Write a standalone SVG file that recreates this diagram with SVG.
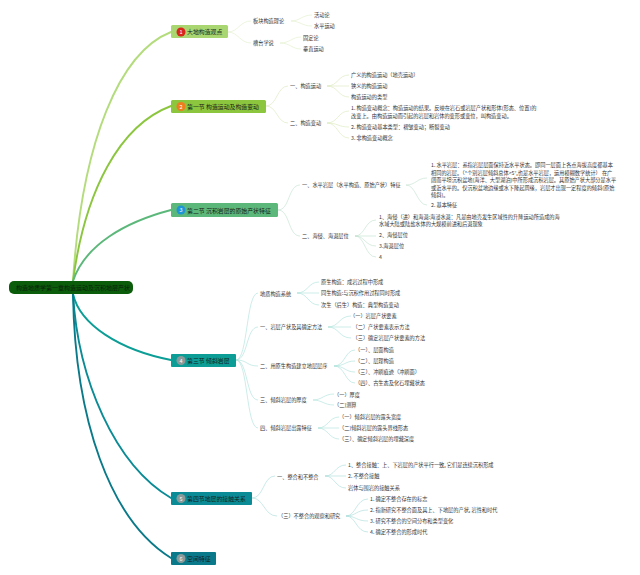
<svg xmlns="http://www.w3.org/2000/svg" width="640" height="575" viewBox="0 0 640 575">
<style>
text{font-family:"Noto Sans CJK SC","Liberation Sans",sans-serif;fill:#333;font-size:5.2px}
.n{font-size:5.9px;fill:#14221a}
.d{font-size:5.5px;fill:#fff;text-anchor:middle}
.root{font-size:6px;fill:#0a1f0a}
.m{fill:none;stroke-linecap:round;stroke-width:1.9}
.s{fill:none;stroke-width:.6}
.a{stroke:#dfeec8}.b{stroke:#d9e8b8}.c{stroke:#bfe0cc}.e{stroke:#a9e0d8}.f{stroke:#a6dcd8}
</style>
<rect width="640" height="575" fill="#fff"/>
<g id="connectors">
<path class="m" stroke="#b4dc7c" d="M73,281C82,140 120,52 171,32"/>
<path class="m" stroke="#8cc63f" d="M73,281C85,190 120,125 171,106"/>
<path class="m" stroke="#5cb87a" d="M73,281C85,245 125,222 171,210"/>
<path class="m" stroke="#0b9d96" d="M73,294C80,325 120,350 171,360"/>
<path class="m" stroke="#0a8b96" d="M73,294C78,380 115,465 171,498"/>
<path class="m" stroke="#0a7a8a" d="M73,294C75,420 110,520 171,558"/>
<path class="s a" d="M228,32C238,32 240,21 251,21M228,32C238,32 240,43 251,43M291,21C300,21 302,15 312,15M291,21C300,21 302,26 312,26M280,43C290,43 292,37 301,37M280,43C290,43 292,49 301,49"/>
<path class="s b" d="M266,106C277,106 277,86 288,86M266,106C277,106 277,123 288,123M327,86C338,86 338,75 349,75M327,86H349M327,86C338,86 338,97 349,97M327,123C338,123 338,111 349,111M327,123C338,123 338,127 349,127M327,123C338,123 338,138 349,138"/>
<path class="s c" d="M278,210C290,210 288,185 300,185M278,210C290,210 288,236 300,236M406,185C416,185 417,178 427,178M406,185C416,185 417,205 427,205M355,236C365,236 365,220 376,220M355,236H376M355,236C365,236 365,246 376,246M355,236C365,236 365,257 376,257"/>
<path class="s e" d="M236,360C248,360 246,293 258,293M236,360C248,360 246,327 258,327M236,360C248,360 246,366 258,366M236,360C248,360 246,400 258,400M236,360C248,360 246,428 258,428M297,293C308,293 308,282 319,282M297,293H319M297,293C308,293 308,305 319,305M328,327C339,327 339,316 351,316M328,327H351M328,327C339,327 339,338 351,338M334,366C345,366 345,350 355,350M334,366C345,366 345,361 355,361M334,366C345,366 345,372 355,372M334,366C345,366 345,383 355,383M313,400C322,400 324,394 334,394M313,400C322,400 324,405 334,405M318,428C328,428 329,417 339,417M318,428H339M318,428C328,428 329,439 339,439"/>
<path class="s f" d="M252,498C264,498 263,476 275,476M252,498C264,498 264,516 277,516M325,476C335,476 335,465 346,465M325,476H346M325,476C335,476 335,488 346,488M346,516C356,516 356,499 368,499M346,516C356,516 356,510 368,510M346,516C356,516 356,521 368,521M346,516C356,516 356,532 368,532"/>
</g>
<g id="root"><rect x="9" y="281" width="124" height="13" rx="5" fill="#0b5c0b"/><text class="root" x="16" y="290">构造地质学第一章构造运动及沉积地层产状</text></g>
<g id="node1"><rect x="171" y="25" width="57" height="13" rx="1.5" fill="#a9d671"/><circle cx="181" cy="32" r="4.5" fill="#d8261c"/><text class="d" x="181" y="34">1</text><text class="n" x="187" y="34">大地构造观点</text></g>
<g id="node2"><rect x="171" y="100" width="95" height="13" rx="1.5" fill="#8cc63f"/><circle cx="181" cy="106.500" r="4.500" fill="#ee7d22"/><text class="d" x="181" y="108.500">2</text><text class="n" x="187" y="109">第一节 构造运动及构造变动</text></g>
<g id="node3"><rect x="171" y="203" width="107" height="14" rx="1.500" fill="#5cb87a"/><circle cx="181" cy="210" r="4.500" fill="#1e96d6"/><text class="d" x="181" y="212">3</text><text class="n" x="187" y="212.500">第二节 沉积岩层的原始产状特征</text></g>
<g id="node4"><rect x="171" y="354" width="65" height="13" rx="1" fill="#0b9d96"/><circle cx="181" cy="360.500" r="4.500" fill="#8a9a9a"/><text class="d" x="181" y="362.500">4</text><text class="n" x="187" y="363">第三节 倾斜岩层</text></g>
<g id="node5"><rect x="171" y="492" width="81" height="13" rx="1" fill="#0a8b96"/><circle cx="181" cy="498.500" r="4.500" fill="#8a9a9a"/><text class="d" x="181" y="500.500">5</text><text class="n" x="187" y="501">第四节地层的接触关系</text></g>
<g id="node6"><rect x="171" y="552" width="45" height="13" rx="1" fill="#0a7a8a"/><circle cx="181" cy="558.500" r="4.500" fill="#8a9a9a"/><text class="d" x="181" y="560.500">6</text><text class="n" x="187" y="561">空间特征</text></g>
<g id="topics1"><text x="253" y="23">板块构造理论</text><text x="314" y="17">活动论</text><text x="314" y="28">水平运动</text><text x="253" y="45">槽台学说</text><text x="303" y="39.500">固定论</text><text x="303" y="51">垂直运动</text></g>
<g id="topics2"><text x="290" y="88">一、构造运动</text><text x="290" y="125">二、构造变动</text><text x="351" y="77">广义的构造运动（地壳运动）</text><text x="351" y="88">狭义的构造运动</text><text x="351" y="99">构造运动的类型</text><text x="351" y="110">1. 构造变动概念：构造运动的结果。反映在岩石或岩层产状和形体(形态、位置)的</text><text x="351" y="118">改变上。由构造运动而引起的岩层和岩体的变形或变位，叫构造变动。</text><text x="351" y="129">2. 构造变动基本类型：褶皱变动；断裂变动</text><text x="351" y="140">3. 非构造变动概念</text></g>
<g id="topics3"><text x="302" y="187">一、水平岩层（水平构造、原始产状）特征</text><text x="302" y="238">二、海侵、海退层位</text><text x="431" y="167">1. 水平岩层：系指岩层层面保持近水平状态。即同一层面上各点海拔高度都基本</text><text x="431" y="174.500">相同的岩层。（*个别岩层倾斜总体&lt;5°,也是水平岩层，运用模糊数学统计） 在广</text><text x="431" y="182">阔而平坦沉积盆地(海洋、大型湖泊)中所形成沉积岩层。其原始产状大部分是水平</text><text x="431" y="189.500">或近水平的。仅沉积盆地边缘或水下隆起周缘，岩层才出现一定程度的倾斜(原始</text><text x="431" y="196.500">倾斜)。</text><text x="431" y="207">2. 基本特征</text><text x="379" y="219">1、海侵（进）和海退:海浸水退：凡是由地壳发生区域性的升降运动所造成的海</text><text x="379" y="226">水域大陆或陆盐水体的大规模前进和后退现象</text><text x="379" y="237">2、海侵层位</text><text x="379" y="248">3.海退层位</text><text x="379" y="259">4</text></g>
<g id="topics4"><text x="260" y="295.500">地质构造系统</text><text x="321" y="284">原生构造：成岩过程中形成</text><text x="321" y="295">同生构造:与沉积作用过程同时形成</text><text x="321" y="307">次生（后生）构造：典型构造变动</text><text x="260" y="329">一、岩层产状及其确定方法</text><text x="350" y="318">（一）岩层产状要素</text><text x="352.500" y="329">（二）产状要素表示方法</text><text x="352.500" y="340">（三）确定岩层产状要素的方法</text><text x="260" y="368">二、用原生构造建立地层层序</text><text x="355" y="351.500">（一）、层面构造</text><text x="355" y="363">（二）、层理构造</text><text x="355" y="374">（三）、冲刷痕迹（冲刷面）</text><text x="355" y="385">（四）、古生态及化石埋藏状态</text><text x="260" y="402">三、倾斜岩层的厚度</text><text x="334" y="396.500">（一）厚度</text><text x="334" y="407">（二)测算</text><text x="260" y="430">四、倾斜岩层出露特征</text><text x="339" y="419">（一）倾斜岩层的露头宽度</text><text x="339" y="430">（二)倾斜岩层的露头界线形态</text><text x="339" y="441">（三）、确定倾斜岩层的埋藏深度</text></g>
<g id="topics5"><text x="277" y="478.500">一、整合和不整合</text><text x="348" y="467">1、整合接触：上、下岩层的产状平行一致, 它们是连续沉积形成</text><text x="348" y="478">2. 不整合接触</text><text x="348" y="490">岩体与围岩的接触关系</text><text x="278" y="517.500">（三）不整合的观察和研究</text><text x="370" y="501">1. 确定不整合存在的标志</text><text x="370" y="512">2. 指新研究不整合面及其上、下地层的产状, 岩性和时代</text><text x="370" y="523">3. 研究不整合的空间分布和类型变化</text><text x="370" y="534">4. 确定不整合的形成时代</text></g>
</svg>
